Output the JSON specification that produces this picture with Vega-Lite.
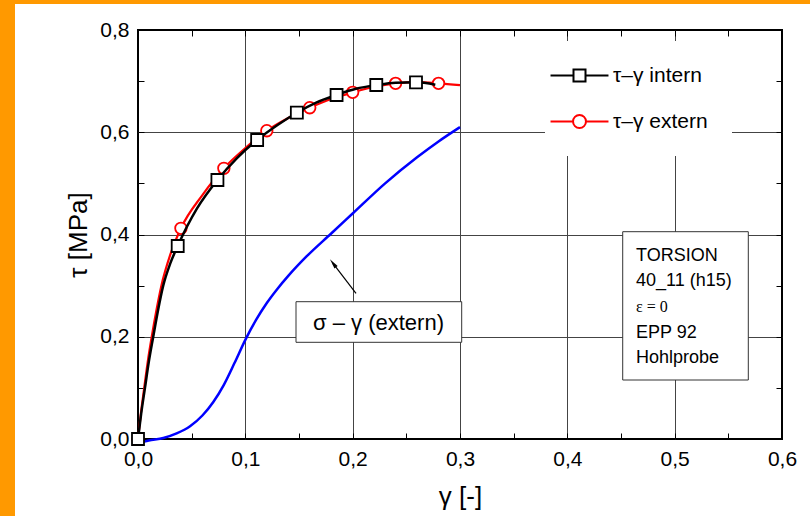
{
  "$schema": "https://vega.github.io/schema/vega-lite/v6.json",
  "width": 644,
  "height": 409,
  "autosize": "none",
  "padding": {"left": 138, "top": 30, "right": 28, "bottom": 77},
  "background": "white",
  "datasets": {
    "sigma": [
      {"x": 0, "y": -0.008}, {"x": 0.01, "y": -0.003}, {"x": 0.0236, "y": 0.002}, {"x": 0.036, "y": 0.011},
      {"x": 0.0485, "y": 0.025}, {"x": 0.06, "y": 0.046}, {"x": 0.07, "y": 0.072}, {"x": 0.08, "y": 0.106},
      {"x": 0.09, "y": 0.149}, {"x": 0.1, "y": 0.194}, {"x": 0.11, "y": 0.233}, {"x": 0.12, "y": 0.266},
      {"x": 0.13, "y": 0.294}, {"x": 0.14, "y": 0.319},
      {"x": 0.157, "y": 0.357}, {"x": 0.18, "y": 0.402}, {"x": 0.2, "y": 0.441}, {"x": 0.23, "y": 0.4995},
      {"x": 0.26, "y": 0.551}, {"x": 0.28, "y": 0.582}, {"x": 0.3, "y": 0.61}
    ],
    "curves": [
      {"series": "τ–γ intern", "x": 0, "y": 0}, {"series": "τ–γ intern", "x": 0.003, "y": 0.05},
      {"series": "τ–γ intern", "x": 0.0065, "y": 0.1}, {"series": "τ–γ intern", "x": 0.01, "y": 0.15},
      {"series": "τ–γ intern", "x": 0.0142, "y": 0.2}, {"series": "τ–γ intern", "x": 0.0185, "y": 0.25},
      {"series": "τ–γ intern", "x": 0.0235, "y": 0.3}, {"series": "τ–γ intern", "x": 0.03, "y": 0.343},
      {"series": "τ–γ intern", "x": 0.037, "y": 0.3775}, {"series": "τ–γ intern", "x": 0.055, "y": 0.451},
      {"series": "τ–γ intern", "x": 0.074, "y": 0.5066}, {"series": "τ–γ intern", "x": 0.092, "y": 0.549},
      {"series": "τ–γ intern", "x": 0.111, "y": 0.5848}, {"series": "τ–γ intern", "x": 0.13, "y": 0.614},
      {"series": "τ–γ intern", "x": 0.148, "y": 0.6382}, {"series": "τ–γ intern", "x": 0.166, "y": 0.658},
      {"series": "τ–γ intern", "x": 0.185, "y": 0.6729}, {"series": "τ–γ intern", "x": 0.203, "y": 0.685},
      {"series": "τ–γ intern", "x": 0.222, "y": 0.6924}, {"series": "τ–γ intern", "x": 0.24, "y": 0.697},
      {"series": "τ–γ intern", "x": 0.259, "y": 0.6977}, {"series": "τ–γ intern", "x": 0.277, "y": 0.693},
      {"series": "τ–γ extern", "x": 0, "y": 0}, {"series": "τ–γ extern", "x": 0.0027, "y": 0.05},
      {"series": "τ–γ extern", "x": 0.0058, "y": 0.1}, {"series": "τ–γ extern", "x": 0.009, "y": 0.15},
      {"series": "τ–γ extern", "x": 0.0128, "y": 0.2}, {"series": "τ–γ extern", "x": 0.017, "y": 0.25},
      {"series": "τ–γ extern", "x": 0.0218, "y": 0.3}, {"series": "τ–γ extern", "x": 0.03, "y": 0.36},
      {"series": "τ–γ extern", "x": 0.04, "y": 0.4121}, {"series": "τ–γ extern", "x": 0.06, "y": 0.477},
      {"series": "τ–γ extern", "x": 0.08, "y": 0.5295}, {"series": "τ–γ extern", "x": 0.1, "y": 0.569},
      {"series": "τ–γ extern", "x": 0.12, "y": 0.603}, {"series": "τ–γ extern", "x": 0.14, "y": 0.628},
      {"series": "τ–γ extern", "x": 0.16, "y": 0.648}, {"series": "τ–γ extern", "x": 0.18, "y": 0.665},
      {"series": "τ–γ extern", "x": 0.2, "y": 0.6781}, {"series": "τ–γ extern", "x": 0.22, "y": 0.689},
      {"series": "τ–γ extern", "x": 0.24, "y": 0.6957}, {"series": "τ–γ extern", "x": 0.26, "y": 0.698},
      {"series": "τ–γ extern", "x": 0.28, "y": 0.6957}, {"series": "τ–γ extern", "x": 0.3, "y": 0.692}
    ],
    "points": [
      {"series": "τ–γ intern", "x": 0, "y": 0}, {"series": "τ–γ intern", "x": 0.037, "y": 0.3775},
      {"series": "τ–γ intern", "x": 0.074, "y": 0.5066}, {"series": "τ–γ intern", "x": 0.111, "y": 0.5848},
      {"series": "τ–γ intern", "x": 0.148, "y": 0.6382}, {"series": "τ–γ intern", "x": 0.185, "y": 0.6729},
      {"series": "τ–γ intern", "x": 0.222, "y": 0.6924}, {"series": "τ–γ intern", "x": 0.259, "y": 0.6977},
      {"series": "τ–γ extern", "x": 0, "y": 0}, {"series": "τ–γ extern", "x": 0.04, "y": 0.4121},
      {"series": "τ–γ extern", "x": 0.08, "y": 0.5295}, {"series": "τ–γ extern", "x": 0.12, "y": 0.603},
      {"series": "τ–γ extern", "x": 0.16, "y": 0.648}, {"series": "τ–γ extern", "x": 0.2, "y": 0.6781},
      {"series": "τ–γ extern", "x": 0.24, "y": 0.6957}, {"series": "τ–γ extern", "x": 0.28, "y": 0.6957}
    ]
  },
  "resolve": {"axis": {"x": "independent", "y": "independent"}},
  "layer": [
    {
      "data": {"values": [{}]},
      "mark": {"type": "rect", "fill": "#FF9900", "clip": false},
      "encoding": {
        "x": {"datum": -0.2, "type": "quantitative", "scale": {"domain": [0, 0.6], "nice": false, "zero": false}, "axis": null},
        "x2": {"datum": -0.1146},
        "y": {"datum": 1.0, "type": "quantitative", "scale": {"domain": [0, 0.8], "nice": false, "zero": false}, "axis": null},
        "y2": {"datum": -0.3}
      }
    },
    {
      "data": {"values": [{}]},
      "mark": {"type": "rect", "fill": "#FF9900", "clip": false},
      "encoding": {
        "x": {"datum": -0.2, "type": "quantitative", "axis": null},
        "x2": {"datum": 0.8},
        "y": {"datum": 1.0, "type": "quantitative", "axis": null},
        "y2": {"datum": 0.85086}
      }
    },
    {
      "data": {"name": "sigma"},
      "mark": {"type": "line", "color": "#0000FF", "strokeWidth": 2.5, "interpolate": "monotone"},
      "encoding": {
        "x": {
          "field": "x", "type": "quantitative",
          "scale": {"domain": [0, 0.6], "nice": false, "zero": false},
          "axis": {
            "orient": "bottom", "title": "γ [-]",
            "values": [0, 0.05, 0.1, 0.15, 0.2, 0.25, 0.3, 0.35, 0.4, 0.45, 0.5, 0.55, 0.6],
            "labelExpr": "abs(datum.value*10 - round(datum.value*10)) < 0.01 ? replace(format(datum.value, '.1f'), '.', ',') : ''",
            "labelPadding": 15, "titlePadding": 14,
            "grid": true,
            "gridOpacity": {"condition": {"test": "datum.value > 0.01 && datum.value < 0.59 && abs(datum.value*10 - round(datum.value*10)) < 0.01", "value": 1}, "value": 0}
          }
        },
        "y": {
          "field": "y", "type": "quantitative",
          "scale": {"domain": [0, 0.8], "nice": false, "zero": false},
          "axis": {
            "orient": "left", "title": "τ [MPa]",
            "values": [0, 0.1, 0.2, 0.3, 0.4, 0.5, 0.6, 0.7, 0.8],
            "labelExpr": "abs(datum.value*5 - round(datum.value*5)) < 0.01 ? replace(format(datum.value, '.1f'), '.', ',') : ''",
            "labelPadding": 15, "titlePadding": 8,
            "grid": true,
            "gridOpacity": {"condition": {"test": "datum.value > 0.01 && datum.value < 0.79 && abs(datum.value*5 - round(datum.value*5)) < 0.01", "value": 1}, "value": 0}
          }
        }
      }
    },
    {
      "data": {"name": "curves"},
      "transform": [{"filter": "datum.series === 'τ–γ extern'"}],
      "mark": {"type": "line", "strokeWidth": 2.2, "interpolate": "monotone"},
      "encoding": {
        "x": {
          "field": "x", "type": "quantitative",
          "axis": {"orient": "top", "title": null, "labels": false, "grid": false,
                   "values": [0, 0.05, 0.1, 0.15, 0.2, 0.25, 0.3, 0.35, 0.4, 0.45, 0.5, 0.55, 0.6]}
        },
        "y": {
          "field": "y", "type": "quantitative",
          "axis": {"orient": "right", "title": null, "labels": false, "grid": false,
                   "values": [0, 0.1, 0.2, 0.3, 0.4, 0.5, 0.6, 0.7, 0.8]}
        },
        "stroke": {
          "field": "series", "type": "nominal",
          "scale": {"domain": ["τ–γ intern", "τ–γ extern"], "range": ["#000000", "#FF0000"]},
          "legend": {
            "orient": "none", "legendX": 407, "legendY": 11,
            "title": null, "labelFont": "Liberation Sans", "labelFontSize": 21, "labelColor": "black",
            "symbolSize": 144, "symbolStrokeWidth": 2, "labelOffset": 23, "rowPadding": 24,
            "padding": 24, "fillColor": "white",
            "encode": {
              "symbols": {
                "update": {
                  "shape": {"signal": "datum.value === 'τ–γ intern' ? 'M-4.83,0H-1M1,0H4.83M-1,-1H1V1H-1Z' : 'M-4.83,0H-1.08M1.08,0H4.83M-1.08,0A1.08,1.08 0 1,1 1.08,0A1.08,1.08 0 1,1 -1.08,0Z'"},
                  "size": {"value": 144},
                  "fill": {"value": "white"},
                  "fillOpacity": {"value": 1},
                  "strokeWidth": {"value": 2}
                }
              }
            }
          }
        }
      }
    },
    {
      "data": {"name": "points"},
      "transform": [{"filter": "datum.series === 'τ–γ extern'"}],
      "mark": {"type": "point", "shape": "circle", "filled": false, "fill": "white", "fillOpacity": 1, "size": 133, "strokeWidth": 1.8, "opacity": 1},
      "encoding": {
        "x": {"field": "x", "type": "quantitative", "axis": null},
        "y": {"field": "y", "type": "quantitative", "axis": null},
        "stroke": {"field": "series", "type": "nominal"}
      }
    },
    {
      "data": {"name": "curves"},
      "transform": [{"filter": "datum.series === 'τ–γ intern'"}],
      "mark": {"type": "line", "strokeWidth": 2.5, "interpolate": "monotone"},
      "encoding": {
        "x": {"field": "x", "type": "quantitative", "axis": null},
        "y": {"field": "y", "type": "quantitative", "axis": null},
        "stroke": {"field": "series", "type": "nominal"}
      }
    },
    {
      "data": {"name": "points"},
      "transform": [{"filter": "datum.series === 'τ–γ intern'"}],
      "mark": {"type": "point", "shape": "square", "filled": false, "fill": "white", "fillOpacity": 1, "size": 144, "strokeWidth": 1.8, "opacity": 1},
      "encoding": {
        "x": {"field": "x", "type": "quantitative", "axis": null},
        "y": {"field": "y", "type": "quantitative", "axis": null},
        "stroke": {"field": "series", "type": "nominal"}
      }
    },
    {
      "data": {"values": [{}]},
      "mark": {"type": "rect", "fill": "white", "stroke": "#333333", "strokeWidth": 1},
      "encoding": {
        "x": {"datum": 0.45159, "type": "quantitative", "axis": null},
        "x2": {"datum": 0.56861},
        "y": {"datum": 0.40548, "type": "quantitative", "axis": null},
        "y2": {"datum": 0.1154}
      }
    },
    {
      "data": {"values": [{}]},
      "mark": {"type": "text", "text": ["TORSION", "40_11 (h15)"], "font": "Liberation Sans", "fontSize": 18, "lineHeight": 25.7, "align": "left", "baseline": "alphabetic", "color": "black"},
      "encoding": {
        "x": {"datum": 0.46398, "type": "quantitative", "axis": null},
        "y": {"datum": 0.34876, "type": "quantitative", "axis": null}
      }
    },
    {
      "data": {"values": [{}]},
      "mark": {"type": "text", "text": "ε = 0", "font": "Liberation Serif", "fontSize": 16, "align": "left", "baseline": "alphabetic", "color": "black"},
      "encoding": {
        "x": {"datum": 0.46398, "type": "quantitative", "axis": null},
        "y": {"datum": 0.24822, "type": "quantitative", "axis": null}
      }
    },
    {
      "data": {"values": [{}]},
      "mark": {"type": "text", "text": ["EPP 92", "Hohlprobe"], "font": "Liberation Sans", "fontSize": 18, "lineHeight": 25.7, "align": "left", "baseline": "alphabetic", "color": "black"},
      "encoding": {
        "x": {"datum": 0.46398, "type": "quantitative", "axis": null},
        "y": {"datum": 0.19795, "type": "quantitative", "axis": null}
      }
    },
    {
      "data": {"values": [{}]},
      "mark": {"type": "rect", "fill": "white", "stroke": "#333333", "strokeWidth": 1},
      "encoding": {
        "x": {"datum": 0.14721, "type": "quantitative", "axis": null},
        "x2": {"datum": 0.30158},
        "y": {"datum": 0.26856, "type": "quantitative", "axis": null},
        "y2": {"datum": 0.18915}
      }
    },
    {
      "data": {"values": [{}]},
      "mark": {"type": "text", "text": "σ – γ  (extern)", "font": "Liberation Sans", "fontSize": 22, "align": "center", "baseline": "alphabetic", "color": "black"},
      "encoding": {
        "x": {"datum": 0.22407, "type": "quantitative", "axis": null},
        "y": {"datum": 0.2132, "type": "quantitative", "axis": null}
      }
    },
    {
      "data": {"values": [{}]},
      "mark": {"type": "rule", "color": "black", "strokeWidth": 1.2},
      "encoding": {
        "x": {"datum": 0.20311, "type": "quantitative", "axis": null},
        "y": {"datum": 0.28499, "type": "quantitative", "axis": null},
        "x2": {"datum": 0.18168},
        "y2": {"datum": 0.34367}
      }
    },
    {
      "data": {"values": [{}]},
      "mark": {"type": "point", "shape": "M0,-1L0.4,1L-0.4,1Z", "filled": true, "color": "black", "size": 100, "angle": 322.6, "opacity": 1},
      "encoding": {
        "x": {"datum": 0.18168, "type": "quantitative", "axis": null},
        "y": {"datum": 0.34367, "type": "quantitative", "axis": null}
      }
    }
  ],
  "config": {
    "view": {"stroke": "black", "strokeWidth": 2},
    "font": "Liberation Sans",
    "axis": {
      "domain": false,
      "labelFont": "Liberation Sans", "labelFontSize": 21, "labelColor": "black",
      "titleFont": "Liberation Sans", "titleFontSize": 26, "titleFontWeight": "normal", "titleColor": "black",
      "tickColor": "black", "tickWidth": 1, "tickSize": -6,
      "labelOverlap": false, "labelFlush": false, "labelBound": false,
      "gridColor": "#444444", "gridWidth": 1
    }
  }
}
